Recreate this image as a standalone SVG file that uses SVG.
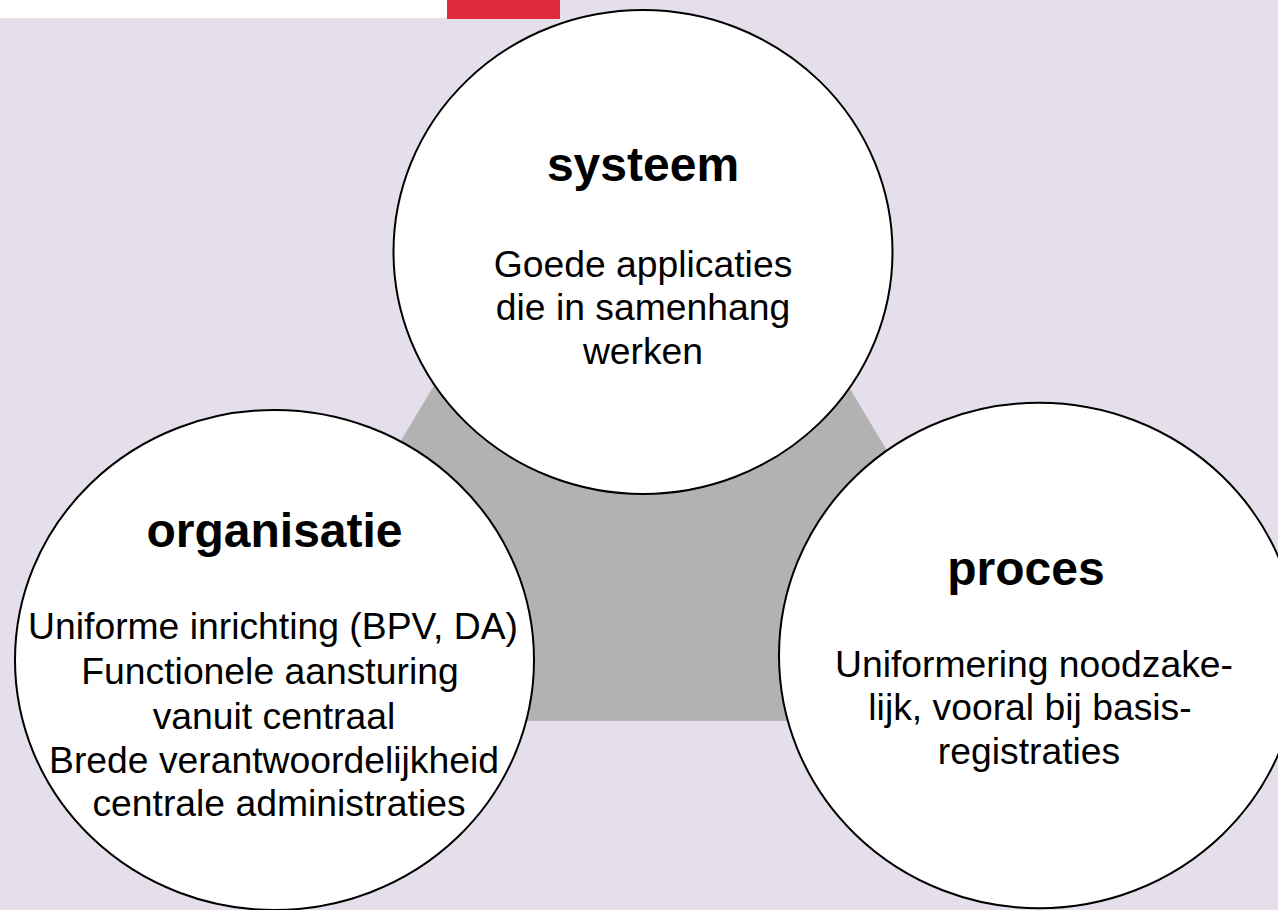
<svg xmlns="http://www.w3.org/2000/svg" width="1278" height="910" viewBox="0 0 1278 910">
  <style>
    .node { fill: #FFFFFF; stroke: #000000; stroke-width: 2; }
    .title { font-family: "Liberation Sans", Arial, sans-serif; font-weight: bold; font-size: 48px; fill: #000000; text-anchor: middle; }
    .body { font-family: "Liberation Sans", Arial, sans-serif; font-size: 37.3px; fill: #000000; text-anchor: middle; }
  </style>
  <rect x="0" y="0" width="1278" height="910" fill="#E5DEEB"/>
  <rect x="0" y="0" width="447" height="18" fill="#FFFFFF"/>
  <rect x="447" y="0" width="113" height="19" fill="#E22A3E"/>
  <g id="connectors">
    <polygon points="641,40 233,721 1049,721" fill="#B2B2B2"/>
  </g>
  <g id="systeem">
    <ellipse class="node" cx="643" cy="252" rx="249.5" ry="242"/>
    <text class="title" x="643" y="181">systeem</text>
    <text class="body" x="643" y="277">Goede applicaties</text>
    <text class="body" x="643" y="320">die in samenhang</text>
    <text class="body" x="643" y="364">werken</text>
  </g>
  <g id="organisatie">
    <ellipse class="node" cx="274.5" cy="660" rx="259.5" ry="250"/>
    <text class="title" x="274.5" y="547">organisatie</text>
    <text class="body" x="273" y="639">Uniforme inrichting (BPV, DA)</text>
    <text class="body" x="270" y="684">Functionele aansturing</text>
    <text class="body" x="274" y="729">vanuit centraal</text>
    <text class="body" x="274" y="773">Brede verantwoordelijkheid</text>
    <text class="body" x="279" y="816">centrale administraties</text>
  </g>
  <g id="proces">
    <ellipse class="node" cx="1039" cy="655.5" rx="260" ry="252.7"/>
    <text class="title" x="1026" y="585">proces</text>
    <text class="body" x="1034" y="677">Uniformering noodzake-</text>
    <text class="body" x="1030" y="720">lijk, vooral bij basis-</text>
    <text class="body" x="1029" y="764">registraties</text>
  </g>
</svg>
